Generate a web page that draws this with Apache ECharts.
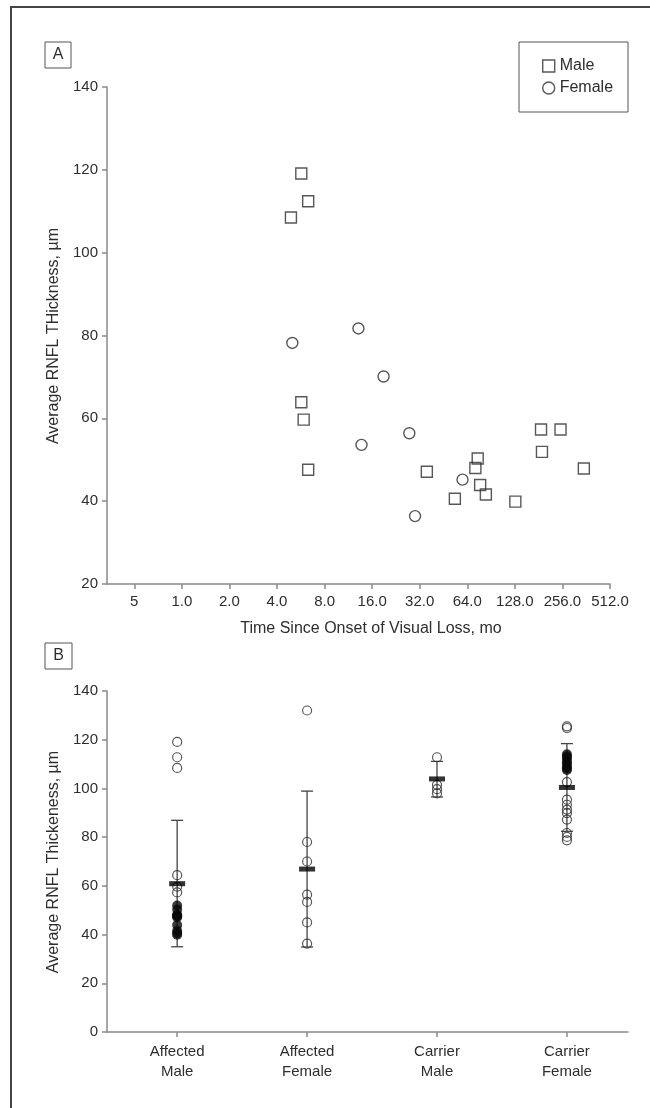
<!DOCTYPE html>
<html>
<head>
<meta charset="utf-8">
<script src="https://cdn.jsdelivr.net/npm/echarts@6/dist/echarts.min.js"></script>
<style>
html, body { margin: 0; padding: 0; background: #fff; }
#chart { width: 650px; height: 1108px; }
</style>
</head>
<body>
<div id="chart"></div>
<script>
// panel A: time since onset (months) vs average RNFL thickness (um)
const maleMonths = [5.7, 6.3, 4.9, 5.7, 5.9, 6.3, 35.5, 72.0, 74.5, 77.2, 83.9, 53.4, 128.9, 187.4, 249.0, 190.0, 349.7]
const maleRnfl = [119.1, 112.4, 108.5, 63.9, 59.7, 47.6, 47.1, 48.0, 50.3, 43.9, 41.6, 40.6, 39.9, 57.3, 57.3, 51.9, 47.9]
const femaleMonths = [5.0, 13.1, 18.9, 27.5, 13.7, 59.7, 29.9]
const femaleRnfl = [78.2, 81.7, 70.1, 56.4, 53.6, 45.2, 36.4]
const xTickValues = [0.5, 1, 2, 4, 8, 16, 32, 64, 128, 256, 512]
const xTickLabels = ['5', '1.0', '2.0', '4.0', '8.0', '16.0', '32.0', '64.0', '128.0', '256.0', '512.0']

// panel B: groups
const categories = ['Affected Male', 'Affected Female', 'Carrier Male', 'Carrier Female']
const affectedMale = [119.1, 112.8, 108.4, 64.4, 59.7, 57.3]
const affectedMaleDense = [51.9, 50.3, 48.0, 47.9, 47.6, 47.1, 43.9, 41.6, 40.6, 39.9]
const affectedFemale = [132.0, 78.0, 70.0, 56.4, 53.4, 45.0, 36.3]
const carrierMale = [112.8, 101.5, 99.7, 98.0]
const carrierFemale = [125.5, 124.8, 102.6, 95.4, 93.3, 91.3, 89.9, 87.2, 81.7, 80.1, 78.7]
const carrierFemaleDense = [114.0, 113.2, 112.4, 111.0, 110.3, 109.1, 108.2, 107.6]
const groupMean = [60.9, 66.9, 103.9, 100.4]
const groupLow = [35.0, 34.9, 96.5, 82.4]
const groupHigh = [86.9, 98.9, 111.1, 118.4]

const font = "'Liberation Sans', Arial, sans-serif"
const ink = '#2e2e2e'
const axisGray = '#8a8a8a'

const chart = echarts.init(document.getElementById('chart'))

const toPoints = (xs, ys) => xs.map((x, i) => [x, ys[i]])
const groupPoints = (idx, vals) => vals.map(v => [idx + 1, v])

const tickLabel = (v) => {
  for (let i = 0; i < xTickValues.length; i++) {
    if (Math.abs(Math.log2(v) - Math.log2(xTickValues[i])) < 1e-6) return xTickLabels[i]
  }
  return ''
}

const axisLineStyle = { lineStyle: { color: axisGray, width: 1.5 } }
const tickStyle = { length: 5, lineStyle: { color: axisGray, width: 1.5 } }
const labelStyle = { color: ink, fontSize: 15, fontFamily: font }

const openSymbol = { color: 'rgba(0,0,0,0)', borderColor: ink, borderWidth: 1.4 }

const option = {
  animation: false,
  grid: [
    { left: 107, top: 87, width: 503, height: 497 },
    { left: 107, top: 691, width: 521, height: 341 }
  ],
  legend: {
    orient: 'vertical',
    left: 537,
    top: 53,
    itemWidth: 12,
    itemHeight: 12,
    itemGap: 6,
    data: [{ name: 'Male', icon: 'rect' }, { name: 'Female', icon: 'circle' }],
    textStyle: { color: ink, fontSize: 16, fontFamily: font },
    itemStyle: openSymbol
  },
  xAxis: [
    {
      gridIndex: 0,
      type: 'log',
      logBase: 2,
      min: 0.336,
      max: 512,
      axisLine: axisLineStyle,
      axisTick: Object.assign({ customValues: xTickValues }, tickStyle),
      axisLabel: Object.assign({ customValues: xTickValues, margin: 10, formatter: tickLabel }, labelStyle),
      splitLine: { show: false }
    },
    {
      gridIndex: 1,
      type: 'value',
      min: 0.46,
      max: 4.47,
      axisLine: axisLineStyle,
      axisTick: Object.assign({ customValues: [1, 2, 3, 4] }, tickStyle),
      axisLabel: Object.assign({
        customValues: [1, 2, 3, 4],
        margin: 10,
        lineHeight: 20,
        formatter: (v) => categories[Math.round(v) - 1].replace(' ', '\n')
      }, labelStyle),
      splitLine: { show: false }
    }
  ],
  yAxis: [
    {
      gridIndex: 0,
      type: 'value',
      min: 20,
      max: 140,
      interval: 20,
      axisLine: Object.assign({ show: true }, axisLineStyle),
      axisTick: Object.assign({ show: true }, tickStyle),
      axisLabel: Object.assign({ margin: 9 }, labelStyle),
      splitLine: { show: false }
    },
    {
      gridIndex: 1,
      type: 'value',
      min: 0,
      max: 140,
      interval: 20,
      axisLine: Object.assign({ show: true }, axisLineStyle),
      axisTick: Object.assign({ show: true }, tickStyle),
      axisLabel: Object.assign({ margin: 9 }, labelStyle),
      splitLine: { show: false }
    }
  ],
  series: [
    {
      name: 'Male',
      type: 'scatter',
      symbol: 'rect',
      symbolSize: 11,
      xAxisIndex: 0,
      yAxisIndex: 0,
      data: toPoints(maleMonths, maleRnfl),
      itemStyle: openSymbol,
      emphasis: { disabled: true }
    },
    {
      name: 'Female',
      type: 'scatter',
      symbol: 'circle',
      symbolSize: 11,
      xAxisIndex: 0,
      yAxisIndex: 0,
      data: toPoints(femaleMonths, femaleRnfl),
      itemStyle: openSymbol,
      emphasis: { disabled: true }
    },
    {
      // mean +/- SD whiskers
      type: 'custom',
      xAxisIndex: 1,
      yAxisIndex: 1,
      data: categories.map((c, i) => [i + 1, groupLow[i], groupHigh[i]]),
      renderItem: (params, api) => {
        const lo = api.coord([api.value(0), api.value(1)])
        const hi = api.coord([api.value(0), api.value(2)])
        const w = 6
        const style = { stroke: '#444', lineWidth: 1.3 }
        return {
          type: 'group',
          children: [
            { type: 'line', shape: { x1: hi[0], y1: hi[1], x2: lo[0], y2: lo[1] }, style },
            { type: 'line', shape: { x1: hi[0] - w, y1: hi[1], x2: hi[0] + w, y2: hi[1] }, style },
            { type: 'line', shape: { x1: lo[0] - w, y1: lo[1], x2: lo[0] + w, y2: lo[1] }, style }
          ]
        }
      },
      z: 1
    },
    {
      type: 'scatter',
      symbol: 'circle',
      symbolSize: 9,
      xAxisIndex: 1,
      yAxisIndex: 1,
      data: [].concat(
        groupPoints(0, affectedMale),
        groupPoints(1, affectedFemale),
        groupPoints(2, carrierMale),
        groupPoints(3, carrierFemale)
      ),
      itemStyle: { color: 'rgba(0,0,0,0)', borderColor: ink, borderWidth: 1.2 },
      emphasis: { disabled: true },
      z: 2
    },
    {
      // overlapping points render as a solid column
      type: 'scatter',
      symbol: 'circle',
      symbolSize: 10,
      xAxisIndex: 1,
      yAxisIndex: 1,
      data: [].concat(groupPoints(0, affectedMaleDense), groupPoints(3, carrierFemaleDense)),
      itemStyle: { color: '#0a0a0a' },
      emphasis: { disabled: true },
      z: 2
    },
    {
      type: 'scatter',
      symbol: 'rect',
      symbolSize: [16, 5],
      xAxisIndex: 1,
      yAxisIndex: 1,
      data: groupMean.map((m, i) => [i + 1, m]),
      itemStyle: { color: '#000' },
      emphasis: { disabled: true },
      z: 3
    }
  ],
  graphic: [
    { type: 'rect', shape: { x: 11, y: 7, width: 700, height: 1200 }, style: { fill: 'none', stroke: '#444', lineWidth: 2 }, silent: true },
    { type: 'rect', shape: { x: 519, y: 42, width: 109, height: 70 }, style: { fill: 'none', stroke: '#555', lineWidth: 1 }, silent: true },
    { type: 'rect', shape: { x: 45, y: 42, width: 26, height: 26 }, style: { fill: 'none', stroke: '#555', lineWidth: 1 }, silent: true },
    { type: 'text', x: 58, y: 55, style: { text: 'A', fill: ink, font: '16px ' + font, textAlign: 'center', textVerticalAlign: 'middle' } },
    { type: 'rect', shape: { x: 45, y: 643, width: 27, height: 26 }, style: { fill: 'none', stroke: '#555', lineWidth: 1 }, silent: true },
    { type: 'text', x: 58.5, y: 656, style: { text: 'B', fill: ink, font: '16px ' + font, textAlign: 'center', textVerticalAlign: 'middle' } },
    { type: 'text', x: 371, y: 629, style: { text: 'Time Since Onset of Visual Loss, mo', fill: ink, font: '16px ' + font, textAlign: 'center', textVerticalAlign: 'middle' } },
    { type: 'text', x: 54, y: 336, rotation: Math.PI / 2, style: { text: 'Average RNFL THickness, µm', fill: ink, font: '16px ' + font, textAlign: 'center', textVerticalAlign: 'middle' } },
    { type: 'text', x: 54, y: 862, rotation: Math.PI / 2, style: { text: 'Average RNFL Thickeness, µm', fill: ink, font: '16px ' + font, textAlign: 'center', textVerticalAlign: 'middle' } }
  ]
}

chart.setOption(option)
</script>
</body>
</html>
